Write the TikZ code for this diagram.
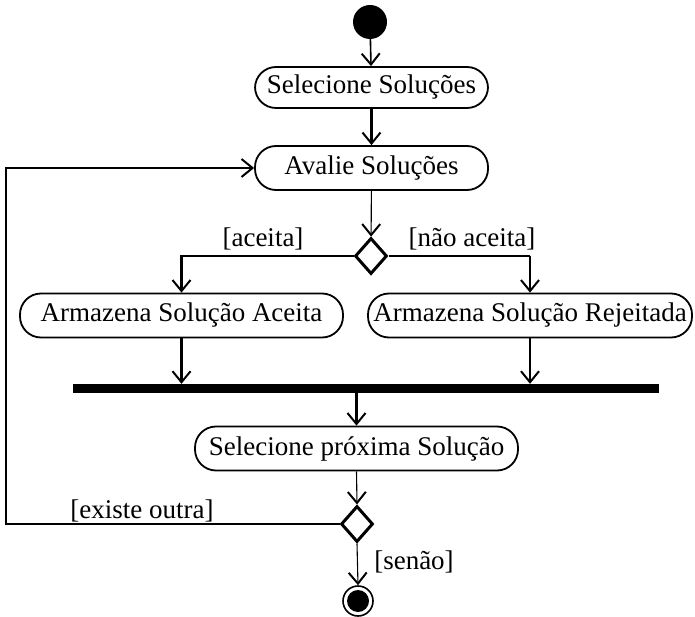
\documentclass[tikz,border=0pt]{standalone}
\usepackage{fontspec}
\setmainfont{Liberation Serif}
\usetikzlibrary{arrows.meta,shapes.geometric}
\begin{document}
\begin{tikzpicture}[x=1pt,y=-1pt,
  every node/.style={font=\fontsize{27}{29}\selectfont},
  activity/.style={draw, line width=1.8pt, rectangle, rounded corners=21pt,
    minimum height=44pt, inner sep=0pt, align=center},
  decision/.style={draw, line width=3pt, diamond, minimum width=32pt,
    minimum height=36pt, inner sep=0pt},
  guard/.style={inner sep=0pt},
  tip/.style={-{Straight Barb[length=11pt,width=18pt,line width=2pt]}},
  thinline/.style={line width=1.1pt},
  thickline/.style={line width=2.6pt}]
\useasboundingbox (0,0) rectangle (695,617);

% initial and final states
\node (start) [circle, fill=black, minimum size=34pt, inner sep=0pt] at (370,22) {};
\node (end) [circle, draw, line width=1.6pt, minimum size=30pt, inner sep=0pt] at (358,601) {};
\fill (end.center) circle (11pt);

% activities
\node (sel)  [activity, minimum width=233pt, minimum height=41pt] at (371.5,87.5) {Selecione Soluções};
\node (aval) [activity, minimum width=233pt] at (371.5,168) {Avalie Soluções};
\node (ace)  [activity, minimum width=323pt] at (181.5,315.5) {Armazena Solução Aceita};
\node (rej)  [activity, minimum width=324pt] at (530,315.5) {Armazena Solução Rejeitada};
\node (prox) [activity, minimum width=323pt] at (356.5,448.5) {Selecione próxima Solução};

% decisions
\node (d1) [decision] at (371,256) {};
\node (d2) [decision] at (357,524) {};

% join bar
\node (bar) [rectangle, fill=black, minimum width=586pt, minimum height=9pt, inner sep=0pt] at (366,388.5) {};

% guards
\node (gA)  [guard] at (263,239) {[aceita]};
\node (gN)  [guard] at (472,239) {[não aceita]};
\node (gE)  [guard] at (142,511) {[existe outra]};
\node (gS)  [guard] at (414,562) {[senão]};

% flows
\coordinate (rc) at (rej.north |- d1.east);
\coordinate (loopx) at (6,0);

\draw[tip, line width=1.6pt] (start) -- (sel);
\draw[tip, thickline] (sel) -- (aval);
\draw[tip, thinline] (aval) -- (d1);
\draw[tip, thickline] (d1.west) -| (ace.north);
\draw[thickline] (d1.east) -- (rc);
\draw[tip, thinline] (rc) -- (rej.north);
\draw[tip, thickline] (ace.south) -- (ace.south |- bar.north);
\draw[tip, thinline] (rej.south) -- (rej.south |- bar.north);
\draw[tip, thickline] (prox.north |- bar.south) -- (prox.north);
\draw[tip, thinline] (prox.south) -- (d2.north);
\draw[tip, thickline] (d2.west) -- (d2.west -| loopx) |- (aval.west);
\draw[tip, thinline] (d2.south) -- (end.north);
\end{tikzpicture}
\end{document}
